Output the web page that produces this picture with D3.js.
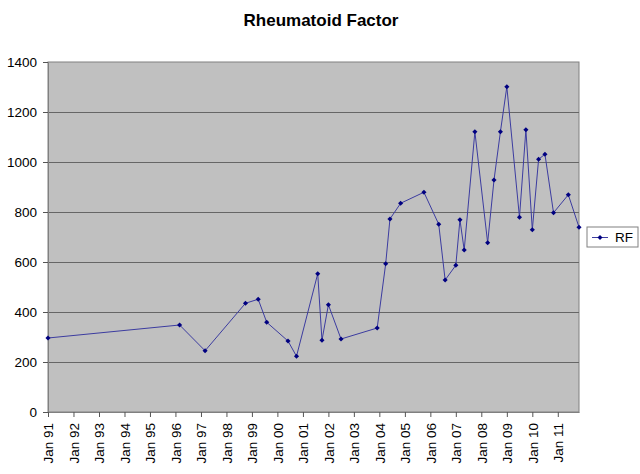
<!DOCTYPE html>
<html>
<head>
<meta charset="utf-8">
<script src="https://cdn.jsdelivr.net/npm/d3@7"></script>
<style>
  body { margin: 0; background: #fff; }
  text { font-family: "Liberation Sans", Arial, sans-serif; }
</style>
</head>
<body>
<div id="chart"></div>
<script>
// sample dates (year-month) and RF values
const dates = [
  '1991-01', '1996-03', '1997-03', '1998-10', '1999-04', '1999-08', '2000-06', '2000-10',
  '2001-08', '2001-10', '2002-01', '2002-07', '2003-12', '2004-04', '2004-06', '2004-11',
  '2005-10', '2006-05', '2006-08', '2007-01', '2007-03', '2007-05', '2007-10', '2008-04',
  '2008-07', '2008-10', '2009-01', '2009-07', '2009-10', '2010-01', '2010-04', '2010-07',
  '2010-11', '2011-06', '2011-11'
]
const rf = [
  296, 348, 245, 435, 451, 359, 284, 223,
  553, 287, 429, 292, 336, 593, 772, 835,
  879, 751, 528, 587, 769, 648, 1121, 677,
  928, 1121, 1301, 779, 1129, 729, 1011, 1031,
  797, 869, 739
]
const yTicks = [0, 200, 400, 600, 800, 1000, 1200, 1400]
const seriesName = 'RF'
const title = 'Rheumatoid Factor'

const width = 640
const height = 474
const margin = {top: 62, right: 61, bottom: 62, left: 48}
const g_width = width - margin.left - margin.right
const g_height = height - margin.top - margin.bottom

const parse = d3.timeParse('%Y-%m')
const data = dates.map((d, i) => ({date: parse(d), value: rf[i]}))

const svg = d3.select('#chart')
  .append('svg')
  .attr('width', width)
  .attr('height', height)

const scaleX = d3.scaleTime()
  .domain(d3.extent(data, d => d.date))
  .range([0, g_width])
const scaleY = d3.scaleLinear()
  .domain([0, 1400])
  .range([g_height, 0])

// 标题
svg.append('text')
  .attr('x', 321)
  .attr('y', 26)
  .attr('text-anchor', 'middle')
  .style('font-size', '17px')
  .style('font-weight', 'bold')
  .text(title)

const g = svg.append('g')
  .attr('transform', `translate(${margin.left}, ${margin.top})`)

// 绘图区背景
g.append('rect')
  .attr('width', g_width)
  .attr('height', g_height)
  .style('fill', '#c0c0c0')
  .style('stroke', '#808080')
  .style('stroke-width', '1px')

// 网格线
g.append('g')
  .selectAll('line')
  .data(yTicks.slice(1, -1))
  .join('line')
  .attr('x1', 0)
  .attr('x2', g_width)
  .attr('y1', d => Math.round(scaleY(d)) + 0.5)
  .attr('y2', d => Math.round(scaleY(d)) + 0.5)
  .style('stroke', '#666')
  .style('stroke-width', '1px')

// 坐标轴
const y_axis = d3.axisLeft(scaleY)
  .tickValues(yTicks)
  .tickSize(5)
  .tickSizeOuter(0)
  .tickFormat(d3.format('d'))
const yg = g.append('g').call(y_axis)
yg.select('.domain').style('stroke', '#808080')
yg.selectAll('.tick line').style('stroke', '#555')
yg.selectAll('.tick text')
  .attr('x', -11)
  .style('font-size', '13.5px')
  .style('fill', '#000')

const xTicks = d3.timeYear.range(new Date(1991, 0, 1), new Date(2012, 0, 1))
const x_axis = d3.axisBottom(scaleX)
  .tickValues(xTicks)
  .tickSize(5)
  .tickSizeOuter(0)
  .tickFormat(d3.timeFormat('Jan %y'))
const xg = g.append('g')
  .attr('transform', `translate(0, ${g_height})`)
  .call(x_axis)
xg.select('.domain').style('stroke', '#808080')
xg.selectAll('.tick line').style('stroke', '#555')
xg.selectAll('.tick text')
  .attr('transform', 'rotate(-90)')
  .attr('x', -11)
  .attr('y', 0)
  .attr('dy', '0.35em')
  .attr('text-anchor', 'end')
  .style('font-size', '13.5px')
  .style('fill', '#000')

// 折线
g.append('path')
  .datum(data)
  .attr('d', d3.line().x(d => scaleX(d.date)).y(d => scaleY(d.value)))
  .style('fill', 'none')
  .style('stroke', '#3c3ca0')
  .style('stroke-width', '1px')

// 小菱形标记
const marker = d3.symbol().type(d3.symbolSquare).size(13)
g.append('g')
  .selectAll('path')
  .data(data)
  .join('path')
  .attr('transform', d => `translate(${scaleX(d.date)}, ${scaleY(d.value)}) rotate(45)`)
  .attr('d', marker)
  .style('fill', '#000080')

// 图例
const legend = svg.append('g').attr('transform', 'translate(587, 227)')
legend.append('rect')
  .attr('width', 51)
  .attr('height', 20)
  .style('fill', '#fff')
  .style('stroke', '#808080')
legend.append('line')
  .attr('x1', 5).attr('x2', 21)
  .attr('y1', 10.5).attr('y2', 10.5)
  .style('stroke', '#3c3ca0')
legend.append('path')
  .attr('transform', 'translate(13, 10.5) rotate(45)')
  .attr('d', marker)
  .style('fill', '#000080')
legend.append('text')
  .attr('x', 28)
  .attr('y', 15)
  .style('font-size', '13.5px')
  .text(seriesName)
</script>
</body>
</html>
